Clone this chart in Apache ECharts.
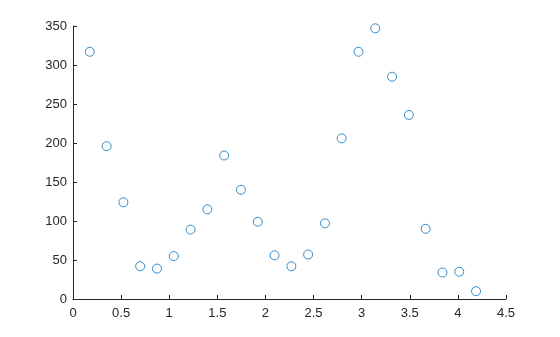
<!DOCTYPE html>
<html><head><meta charset="utf-8">
<script src="https://cdn.jsdelivr.net/npm/echarts@6/dist/echarts.min.js"></script>
<style>html,body{margin:0;padding:0;background:#fff}#c{width:560px;height:337px}</style>
</head><body><div id="c"></div>
<script>
const xValues = [0.1745,0.3491,0.5236,0.6981,0.8727,1.0472,1.2217,1.3963,1.5708,1.7453,1.9199,2.0944,2.2689,2.4435,2.6180,2.7925,2.9671,3.1416,3.3161,3.4907,3.6652,3.8397,4.0143,4.1888];
const yValues = [317,196,124,42,39,55,89,115,184,140,99,56,42,57,97,206,317,347,285,236,90,34,35,10];
const chart = echarts.init(document.getElementById('c'));
const axisCommon = {
  axisLine:{show:true,lineStyle:{color:'#262626',width:1}},
  axisTick:{show:true,inside:true,length:4,lineStyle:{color:'#262626'}},
  axisLabel:{color:'#262626',fontSize:13,fontFamily:'Liberation Sans, Arial, sans-serif'},
  splitLine:{show:false}
};
chart.setOption({
  animation:false,
  grid:{left:73,right:54,top:26,bottom:38},
  xAxis:Object.assign({type:'value',min:0,max:4.5,interval:0.5},axisCommon,{axisLabel:Object.assign({},axisCommon.axisLabel,{margin:8})}),
  yAxis:Object.assign({type:'value',min:0,max:350,interval:50},axisCommon,{axisLabel:Object.assign({},axisCommon.axisLabel,{margin:6})}),
  series:[{type:'scatter',data:xValues.map((x,i)=>[x,yValues[i]]),symbol:'circle',symbolSize:9,
    itemStyle:{color:'rgba(0,0,0,0)',borderColor:'#0072BD',borderWidth:1}}]
});
</script></body></html>
